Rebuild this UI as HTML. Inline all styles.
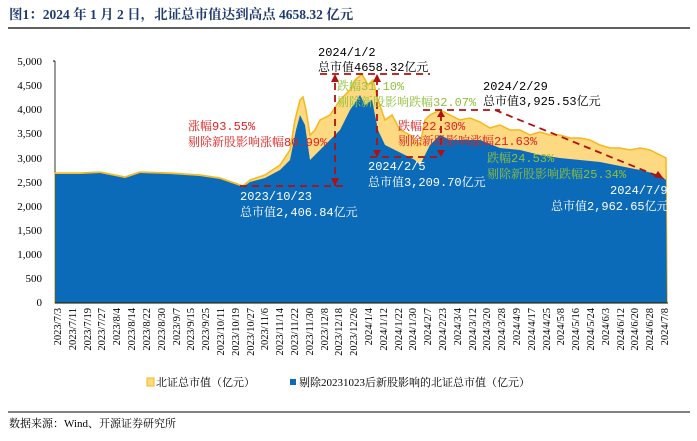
<!DOCTYPE html>
<html><head><meta charset="utf-8"><style>
body{margin:0;background:#fff;}
svg text{font-family:"Liberation Serif","Noto Serif CJK SC",serif;}
svg text.m{font-family:"Liberation Mono","Noto Serif CJK SC",monospace;}
</style></head><body>
<svg width="697" height="436" viewBox="0 0 697 436" xmlns="http://www.w3.org/2000/svg">
<text x="9" y="19" font-size="13.5" font-weight="bold" fill="#1f3a6e">图1：2024 年 1 月 2 日，北证总市值达到高点 4658.32 亿元</text>
<line x1="8" y1="28" x2="690" y2="28" stroke="#000" stroke-width="1.2"/>
<g font-size="11" fill="#000" text-anchor="end">
<text x="42" y="65">5,000</text><text x="42" y="89">4,500</text><text x="42" y="113">4,000</text><text x="42" y="137">3,500</text><text x="42" y="162">3,000</text><text x="42" y="186">2,500</text><text x="42" y="210">2,000</text><text x="42" y="234">1,500</text><text x="42" y="258">1,000</text><text x="42" y="282">500</text><text x="42" y="306">0</text>
</g>
<line x1="55" y1="61" x2="55" y2="303" stroke="#000" stroke-width="0.8"/>
<line x1="53" y1="61" x2="55" y2="61" stroke="#000"/>
<polygon fill="#fdd982" stroke="#f6b81a" stroke-width="1.5" points="55,303 55,173 80,173 100,172 125,177 140,172 170,173 200,175 220,178 243,186 250,180 265,175 280,165 290,150 295,120 300,100 303,97 306,110 310,135 315,130 320,120 330,115 340,100 350,90 355,80 362,74 368,85 373,80 378,100 385,120 392,115 400,130 410,135 420,145 425,120 430,115 440,110 450,115 460,120 470,118 480,122 490,128 500,125 510,130 520,130 530,135 540,132 550,135 560,135 570,138 580,138 590,140 600,145 610,148 620,148 630,150 640,148 650,150 660,155 666,158 667,303"/>
<polygon fill="#0c6bb8" points="55,303 55,174 80,174 100,173 125,178 140,173 170,174 200,176 220,179 243,187 250,182 265,178 280,170 290,160 296,130 300,115 305,125 310,160 320,150 330,140 340,130 350,110 360,95 365,105 372,100 378,130 385,145 395,150 405,155 415,160 420,165 430,145 440,135 450,140 460,140 480,140 500,148 520,150 540,155 560,158 580,160 600,162 620,166 640,170 660,175 666,180 667,303"/>
<line x1="55" y1="303" x2="668" y2="303" stroke="#000" stroke-width="0.8"/>
<g stroke="#b01010" stroke-width="1.8" stroke-dasharray="7,5" fill="none">
<line x1="240" y1="186" x2="345" y2="186"/>
<line x1="335" y1="186" x2="335" y2="78"/>
<line x1="320" y1="74" x2="430" y2="74"/>
<line x1="377" y1="78" x2="377" y2="155"/>
<line x1="370" y1="157" x2="440" y2="157"/>
<line x1="423" y1="110" x2="500" y2="110"/>
<line x1="441" y1="114" x2="441" y2="155"/>
<line x1="495" y1="110" x2="660" y2="177"/>
</g>
<g fill="#b01010"><polygon points="335,74 331,82 339,82"/><polygon points="377,74 373,82 381,82"/><polygon points="441,110 437,117 445,117"/><polygon points="441,157 437,150 445,150"/><polygon points="377,157 373,150 381,150"/><polygon points="335,186 331,178 339,178"/><polygon points="664,179 654,177 658,171"/></g>
<g font-size="12">
<text class="m" x="318" y="56" fill="#000">2024/1/2</text><text class="m" x="318" y="71" fill="#000">总市值4658.32亿元</text>
<text class="m" x="188" y="130" fill="#e02020">涨幅93.55%</text><text class="m" x="188" y="146" fill="#e02020">剔除新股影响涨幅80.99%</text>
<text class="m" x="337" y="90" fill="#8fc03c">跌幅31.10%</text><text class="m" x="337" y="106" fill="#8fc03c">剔除新股影响跌幅32.07%</text>
<text class="m" x="398" y="130" fill="#e02020">跌幅22.30%</text><text class="m" x="398" y="145" fill="#e02020">剔除新股影响涨幅21.63%</text>
<text class="m" x="368" y="170" fill="#fff">2024/2/5</text><text class="m" x="368" y="186" fill="#fff">总市值3,209.70亿元</text>
<text class="m" x="483" y="90" fill="#000">2024/2/29</text><text class="m" x="483" y="105" fill="#000">总市值3,925.53亿元</text>
<text class="m" x="487" y="162" fill="#8fc03c">跌幅24.53%</text><text class="m" x="487" y="178" fill="#8fc03c">剔除新股影响跌幅25.34%</text>
<text class="m" x="610" y="194" fill="#fff">2024/7/9</text><text class="m" x="551" y="210" fill="#fff">总市值2,962.65亿元</text>
<text class="m" x="240" y="200" fill="#fff">2023/10/23</text><text class="m" x="240" y="216" fill="#fff">总市值2,406.84亿元</text>
</g>
<g font-size="10.5" fill="#000" text-anchor="end">
<text transform="translate(61,308) rotate(-90)">2023/7/3</text>
<text transform="translate(76,308) rotate(-90)">2023/7/11</text>
<text transform="translate(91,308) rotate(-90)">2023/7/19</text>
<text transform="translate(105,308) rotate(-90)">2023/7/27</text>
<text transform="translate(120,308) rotate(-90)">2023/8/4</text>
<text transform="translate(135,308) rotate(-90)">2023/8/14</text>
<text transform="translate(150,308) rotate(-90)">2023/8/22</text>
<text transform="translate(165,308) rotate(-90)">2023/8/30</text>
<text transform="translate(180,308) rotate(-90)">2023/9/7</text>
<text transform="translate(194,308) rotate(-90)">2023/9/15</text>
<text transform="translate(209,308) rotate(-90)">2023/9/25</text>
<text transform="translate(224,308) rotate(-90)">2023/10/11</text>
<text transform="translate(239,308) rotate(-90)">2023/10/19</text>
<text transform="translate(254,308) rotate(-90)">2023/10/27</text>
<text transform="translate(268,308) rotate(-90)">2023/11/6</text>
<text transform="translate(283,308) rotate(-90)">2023/11/14</text>
<text transform="translate(298,308) rotate(-90)">2023/11/22</text>
<text transform="translate(313,308) rotate(-90)">2023/11/30</text>
<text transform="translate(328,308) rotate(-90)">2023/12/8</text>
<text transform="translate(342,308) rotate(-90)">2023/12/18</text>
<text transform="translate(357,308) rotate(-90)">2023/12/26</text>
<text transform="translate(372,308) rotate(-90)">2024/1/4</text>
<text transform="translate(387,308) rotate(-90)">2024/1/12</text>
<text transform="translate(402,308) rotate(-90)">2024/1/22</text>
<text transform="translate(416,308) rotate(-90)">2024/1/30</text>
<text transform="translate(431,308) rotate(-90)">2024/2/7</text>
<text transform="translate(446,308) rotate(-90)">2024/2/23</text>
<text transform="translate(461,308) rotate(-90)">2024/3/4</text>
<text transform="translate(476,308) rotate(-90)">2024/3/12</text>
<text transform="translate(490,308) rotate(-90)">2024/3/20</text>
<text transform="translate(505,308) rotate(-90)">2024/3/28</text>
<text transform="translate(520,308) rotate(-90)">2024/4/9</text>
<text transform="translate(535,308) rotate(-90)">2024/4/17</text>
<text transform="translate(550,308) rotate(-90)">2024/4/25</text>
<text transform="translate(564,308) rotate(-90)">2024/5/8</text>
<text transform="translate(579,308) rotate(-90)">2024/5/16</text>
<text transform="translate(594,308) rotate(-90)">2024/5/24</text>
<text transform="translate(609,308) rotate(-90)">2024/6/3</text>
<text transform="translate(624,308) rotate(-90)">2024/6/12</text>
<text transform="translate(638,308) rotate(-90)">2024/6/20</text>
<text transform="translate(653,308) rotate(-90)">2024/6/28</text>
<text transform="translate(668,308) rotate(-90)">2024/7/8</text>
</g>
<rect x="147" y="378" width="7" height="8" fill="#fdd982" stroke="#f6b81a"/>
<text x="156" y="386" font-size="11" fill="#000">北证总市值（亿元）</text>
<rect x="290" y="379" width="6" height="6" fill="#0c6bb8"/>
<text x="299" y="386" font-size="11" fill="#000">剔除20231023后新股影响的北证总市值（亿元）</text>
<line x1="8" y1="412" x2="690" y2="412" stroke="#000" stroke-width="1"/>
<text x="9" y="427" font-size="11" fill="#000">数据来源：Wind、开源证券研究所</text>
</svg>
</body></html>
